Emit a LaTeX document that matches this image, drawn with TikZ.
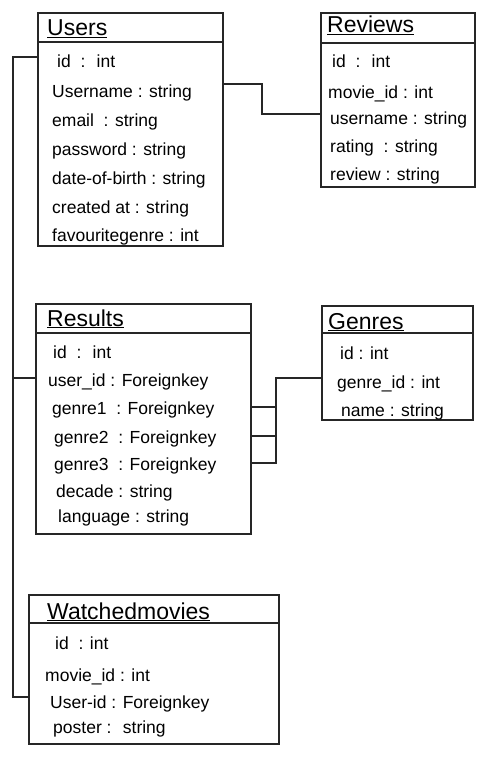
\documentclass[tikz,border=0pt]{standalone}
\usepackage{fontspec}
\setmainfont{Liberation Sans}
\usetikzlibrary{calc}
\begin{document}
\begin{tikzpicture}[x=1pt,y=-1pt,
  tbl/.style={draw=black!85, line width=2.2pt, anchor=north west, inner sep=0pt},
  sep/.style={draw=black!85, line width=2.2pt},
  link/.style={draw=black!85, line width=2.2pt, line join=miter},
  ttl/.style={anchor=base west, inner sep=0pt, font=\fontsize{23}{25}\selectfont},
  fld/.style={anchor=base west, inner sep=0pt, font=\fontsize{17.5}{19}\selectfont}]
\useasboundingbox (0,0) rectangle (496,762);

% ---------- Users ----------
\node[tbl, minimum width=185pt, minimum height=233pt] (users) at (37,12) {};
\draw[sep] (37,42) -- (222,42);
\node[ttl] (usersT) at (47,36) {\underline{Users}};
\node[fld] (u1) at (57,68)  {id \ : \ int};
\node[fld] (u2) at (52,98)  {Username : string};
\node[fld] (u3) at (52,127) {email \ : string};
\node[fld] (u4) at (52,156) {password : string};
\node[fld] (u5) at (52,185) {date-of-birth : string};
\node[fld] (u6) at (52,213) {created at : string};
\node[fld] (u7) at (52,241) {favouritegenre : int};

% ---------- Reviews ----------
\node[tbl, minimum width=154pt, minimum height=174pt] (reviews) at (320,12) {};
\draw[sep] (320,43) -- (474,43);
\node[ttl] (reviewsT) at (327,33) {\underline{Reviews}};
\node[fld] (v1) at (332,68)  {id \ : \ int};
\node[fld] (v2) at (328,99)  {movie\_id : int};
\node[fld] (v3) at (330,125) {username : string};
\node[fld] (v4) at (330,153) {rating \ : string};
\node[fld] (v5) at (330,180) {review : string};

% ---------- Results ----------
\node[tbl, minimum width=215pt, minimum height=230pt] (results) at (35,303) {};
\draw[sep] (35,333) -- (250,333);
\node[ttl] (resultsT) at (47,326) {\underline{Results}};
\node[fld] (r1) at (53,358) {id \ : \ int};
\node[fld] (r2) at (48,386) {user\_id : Foreignkey};
\node[fld] (r3) at (52,414) {genre1 \ : Foreignkey};
\node[fld] (r4) at (54,443) {genre2 \ : Foreignkey};
\node[fld] (r5) at (54,470) {genre3 \ : Foreignkey};
\node[fld] (r6) at (56,497) {decade : string};
\node[fld] (r7) at (58,522) {language : string};

% ---------- Genres ----------
\node[tbl, minimum width=151pt, minimum height=114pt] (genres) at (321,305) {};
\draw[sep] (321,333) -- (472,333);
\node[ttl] (genresT) at (328,329) {\underline{Genres}};
\node[fld] (g1) at (340,359) {id : int};
\node[fld] (g2) at (337,388) {genre\_id : int};
\node[fld] (g3) at (341,416) {name : string};

% ---------- Watchedmovies ----------
\node[tbl, minimum width=250pt, minimum height=149pt] (watched) at (28,594) {};
\draw[sep] (28,623) -- (278,623);
\node[ttl] (watchedT) at (47,619) {\underline{Watchedmovies}};
\node[fld] (w1) at (55,649) {id \ : int};
\node[fld] (w2) at (45,681) {movie\_id : int};
\node[fld] (w3) at (50,708) {User-id : Foreignkey};
\node[fld] (w4) at (53,733) {poster : \ string};

% ---------- relationships ----------
% user spine on the left, feeding Results and Watchedmovies
\coordinate (spineTop) at (13,57);
\coordinate (spineMid) at (13,378);
\coordinate (spineBot) at (13,697);
\draw[link] (users.west |- spineTop) -- (spineTop) -- (spineBot) -- (watched.west |- spineBot);
\draw[link] (spineMid) -- (results.west |- spineMid);

% Users -> Reviews
\coordinate (urBend) at (262,84);
\coordinate (urIn) at (262,114);
\draw[link] (users.east |- urBend) -- (urBend) -- (urIn) -- (reviews.west |- urIn);

% Results genre1/2/3 -> Genres
\coordinate (gBus) at (276,378);
\coordinate (gBus1) at (276,407);
\coordinate (gBus2) at (276,436);
\coordinate (gBus3) at (276,463);
\draw[link] (genres.west |- gBus) -- (gBus) -- (gBus3) -- (results.east |- gBus3);
\draw[link] (results.east |- gBus1) -- (gBus1);
\draw[link] (results.east |- gBus2) -- (gBus2);
\end{tikzpicture}
\end{document}
